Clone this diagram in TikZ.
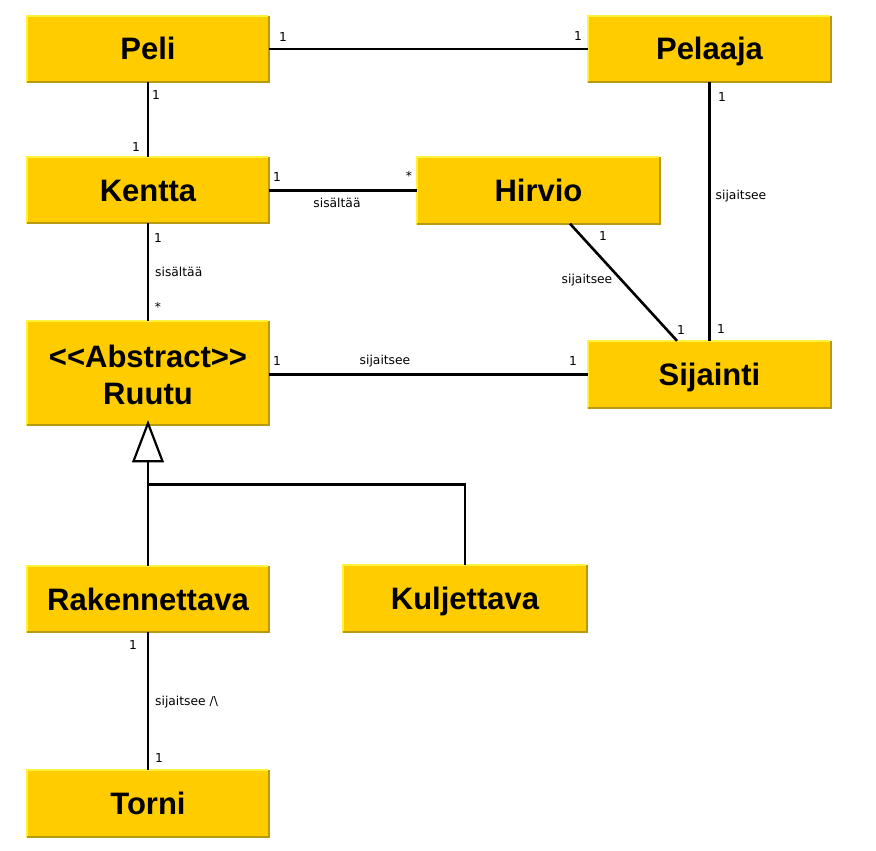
\documentclass[tikz,border=0pt]{standalone}
\usepackage{fontspec}
\setmainfont[Ligatures=NoCommon]{Liberation Sans}
\newfontfamily\lblfont{DejaVu Sans}
\usetikzlibrary{calc}
\definecolor{boxfill}{HTML}{FFCC00}
\definecolor{boxlight}{HTML}{FFF23A}
\definecolor{boxdark}{HTML}{B89A10}
\begin{document}
\begin{tikzpicture}[x=1pt,y=-1pt,
  clsbase/.style={fill=boxfill, draw=none, minimum width=242pt, minimum height=66pt, inner sep=0pt,
    font=\bfseries\fontsize{31}{38}\selectfont},
  cls/.style={clsbase, text height=22pt, text depth=0pt},
  conn/.style={line width=2.6pt, black},
  lbl/.style={font=\lblfont\fontsize{12.3}{14}\selectfont, inner sep=0pt}]
\useasboundingbox (0,0) rectangle (876,851);
% classes
\node[cls] (peli) at (148,49) {Peli};
\node[cls] (pelaaja) at (709.5,49) {Pelaaja};
\node[cls] (kentta) at (148,190) {Kentta};
\node[cls, minimum width=243pt] (hirvio) at (538.5,190.5) {Hirvio};
\node[clsbase, minimum height=104pt, align=center] (ruutu) at (148,373) {\rule{0pt}{26pt}<{}<Abstract>{}>\\[-1pt]Ruutu};
\node[cls, minimum width=243pt, minimum height=67pt] (sijainti) at (709.5,374.5) {Sijainti};
\node[cls] (rakennettava) at (148,599) {Rakennettava};
\node[cls, minimum width=243pt, minimum height=67pt] (kuljettava) at (465,598.5) {Kuljettava};
\node[cls, minimum height=67pt] (torni) at (148,803.5) {Torni};
\foreach \n in {peli,pelaaja,kentta,hirvio,ruutu,sijainti,rakennettava,kuljettava,torni}{
  \draw[boxlight, line width=2.2pt] ([yshift=-1pt]\n.south west) -- (\n.north west) -- ([xshift=-1pt]\n.north east);
  \draw[boxdark, line width=2.2pt] (\n.north east) -- (\n.south east) -- (\n.south west);
}
% connectors
\draw[conn] (peli) -- (pelaaja);
\draw[conn] (peli) -- (kentta);
\draw[conn] (hirvio.west) -- (hirvio.west -| kentta.east);
\draw[conn] (kentta) -- (ruutu);
\draw[conn] (sijainti.west) -- (sijainti.west -| ruutu.east);
\coordinate (h1) at ([xshift=31.5pt]hirvio.south);
\coordinate (s1) at ([xshift=-32.5pt]sijainti.north);
\draw[conn] (h1) -- (s1);
\draw[conn] (pelaaja) -- (sijainti);
\draw[conn] (rakennettava) -- (torni);
% generalization
\coordinate (apex) at ([yshift=2pt]ruutu.south);
\coordinate (tribase) at ($(apex)+(0,38)$);
\coordinate (branch) at ($(apex)+(0,61)$);
\draw[conn, line width=2.2pt, line join=miter] (apex) -- ($(tribase)+(-14.5,0)$) -- ($(tribase)+(14.5,0)$) -- cycle;
\draw[conn] (tribase) -- (rakennettava.north);
\draw[conn] (branch) -| (kuljettava.north);
% labels
\node[lbl] at (283,37) {1};
\node[lbl] at (578,36) {1};
\node[lbl] at (156,95) {1};
\node[lbl] at (136,147) {1};
\node[lbl] at (277,177) {1};
\node[lbl] at (409,176) {*};
\node[lbl] at (337,203) {sisältää};
\node[lbl] at (158,238) {1};
\node[lbl, anchor=west] at (155,272) {sisältää};
\node[lbl] at (158,307) {*};
\node[lbl] at (277,361) {1};
\node[lbl] at (385,361) {sijaitsee};
\node[lbl] at (573,361) {1};
\node[lbl] at (603,236) {1};
\node[lbl] at (587,280) {sijaitsee};
\node[lbl] at (681,330) {1};
\node[lbl] at (722,97) {1};
\node[lbl] at (741,196) {sijaitsee};
\node[lbl] at (721,329) {1};
\node[lbl] at (133,645) {1};
\node[lbl, anchor=west] at (155,702) {sijaitsee /\textbackslash};
\node[lbl] at (159,758) {1};
\end{tikzpicture}
\end{document}
